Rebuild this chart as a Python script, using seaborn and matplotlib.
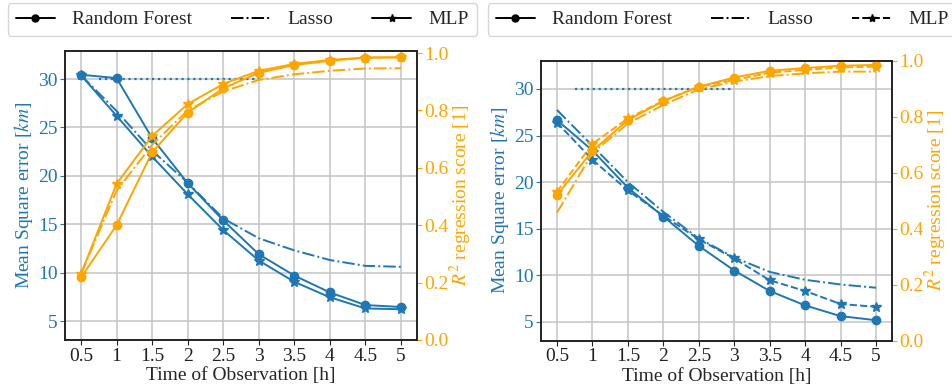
import matplotlib
matplotlib.use("Agg")
import matplotlib.pyplot as plt
import seaborn as sns
import pandas as pd
from matplotlib.lines import Line2D

sns.set_theme(style="ticks")
plt.rcParams["font.family"] = ["Liberation Serif", "DejaVu Serif"]
plt.rcParams["mathtext.fontset"] = "stix"

hours = [0.5, 1, 1.5, 2, 2.5, 3, 3.5, 4, 4.5, 5]
hour_labels = ["0.5", "1", "1.5", "2", "2.5", "3", "3.5", "4", "4.5", "5"]
models = ["Random Forest", "Lasso", "MLP"]

# Left panel
left_mse_rf = [30.45, 30.1, 23.9, 19.25, 15.4, 11.9, 9.7, 7.95, 6.65, 6.45]
left_mse_lasso = [30.4, 26.7, 22.6, 19.3, 15.6, 13.55, 12.3, 11.3, 10.7, 10.6]
left_mse_mlp = [30.4, 26.2, 22.0, 18.1, 14.4, 11.25, 9.05, 7.45, 6.3, 6.22]
left_r2_rf = [0.218, 0.40, 0.654, 0.792, 0.877, 0.931, 0.958, 0.973, 0.984, 0.985]
left_r2_lasso = [0.23, 0.52, 0.68, 0.80, 0.866, 0.906, 0.926, 0.938, 0.946, 0.947]
left_r2_mlp = [0.23, 0.544, 0.711, 0.822, 0.892, 0.938, 0.962, 0.976, 0.984, 0.985]

# Right panel
right_mse_rf = [26.67, 23.4, 19.4, 16.3, 13.15, 10.5, 8.3, 6.75, 5.6, 5.16]
right_mse_lasso = [27.75, 23.9, 20.0, 16.8, 13.95, 11.9, 10.35, 9.5, 9.0, 8.65]
right_mse_mlp = [26.4, 22.4, 19.1, 16.4, 13.85, 11.8, 9.45, 8.3, 6.9, 6.6]
right_r2_rf = [0.52, 0.678, 0.788, 0.856, 0.907, 0.94, 0.964, 0.974, 0.982, 0.985]
right_r2_lasso = [0.457, 0.67, 0.776, 0.842, 0.898, 0.925, 0.945, 0.955, 0.961, 0.961]
right_r2_mlp = [0.532, 0.703, 0.794, 0.857, 0.907, 0.931, 0.957, 0.967, 0.976, 0.979]

ref_level = 30
ref_start, ref_end = 0.75, 3

BLUE = "#1f77b4"
ORANGE = "#ffa500"
FS = 14

fig = plt.figure(figsize=(9.52, 3.92), dpi=100)


def draw(rect, mse, r2, mlp_ls, ylim_l, ylim_r, legend_anchor):
    ax = fig.add_axes(rect)
    ax2 = ax.twinx()
    styles = {"Random Forest": dict(ls="-", marker="o", ms=6),
              "Lasso": dict(ls="-.", marker=None, ms=0),
              "MLP": dict(ls=mlp_ls, marker="*", ms=7)}
    for axis, vals, col in [(ax, mse, BLUE), (ax2, r2, ORANGE)]:
        for m, v in zip(models, vals):
            df = pd.DataFrame({"h": hours, "v": v})
            st = styles[m]
            kw = dict(linestyle=st["ls"], linewidth=1.4, color=col)
            if st["marker"]:
                kw.update(marker=st["marker"], markersize=st["ms"],
                          markeredgecolor=col, markerfacecolor=col, markeredgewidth=1)
            sns.lineplot(data=df, x="h", y="v", ax=axis, **kw)
    ax.hlines(ref_level, ref_start, ref_end, colors=BLUE, linestyles=":", linewidth=1.6)

    ax.set_xlim(0.275, 5.225)
    ax.set_ylim(*ylim_l)
    ax2.set_ylim(*ylim_r)
    ax.set_xticks(hours)
    ax.set_xticklabels(hour_labels)
    ax.set_yticks([5, 10, 15, 20, 25, 30])
    ax2.set_yticks([0.0, 0.2, 0.4, 0.6, 0.8, 1.0])
    ax.grid(True, color="#c4c4c4", linewidth=1.1)
    ax.set_axisbelow(True)
    ax.set_xlabel("Time of Observation [h]", fontsize=FS, labelpad=2)
    ax.set_ylabel("Mean Square error [$km$]", fontsize=FS, color=BLUE, labelpad=2)
    ax2.set_ylabel("$R^2$ regression score [1]", fontsize=FS, color=ORANGE, labelpad=0)
    ax.tick_params(axis="x", labelsize=FS, colors="#222222", length=3.5, width=0.8, pad=2)
    ax.tick_params(axis="y", labelsize=FS, colors=BLUE, length=3.5, width=0.8, pad=2)
    ax2.tick_params(axis="y", labelsize=FS, colors=ORANGE, length=3.5, width=0.8, pad=1.5)
    for a in (ax, ax2):
        for s in a.spines.values():
            s.set_color("#222222")
            s.set_linewidth(1.2)

    handles = [Line2D([], [], color="black", ls="-", marker="o", ms=5, lw=1.4),
               Line2D([], [], color="black", ls="-.", lw=1.4),
               Line2D([], [], color="black", ls=mlp_ls, marker="*", ms=6, lw=1.4)]
    fig.legend(handles, models, loc="upper left", bbox_to_anchor=legend_anchor,
               ncol=3, fontsize=FS, frameon=True, fancybox=True,
               edgecolor="#cccccc", handlelength=2.0, handletextpad=0.9,
               columnspacing=2.0, borderpad=0.4, borderaxespad=0)
    return ax, ax2


draw([65 / 952, 52 / 392, 352 / 952, 289 / 392],
     [left_mse_rf, left_mse_lasso, left_mse_mlp],
     [left_r2_rf, left_r2_lasso, left_r2_mlp],
     "-", (3.04, 32.9), (0, 1.007), (8 / 952, 1 - 3 / 392))
draw([541 / 952, 51.3 / 392, 351 / 952, 280 / 392],
     [right_mse_rf, right_mse_lasso, right_mse_mlp],
     [right_r2_rf, right_r2_lasso, right_r2_mlp],
     "--", (2.96, 33.04), (0, 1.0), (488 / 952, 1 - 3 / 392))

fig.savefig("out.png", dpi=100)
